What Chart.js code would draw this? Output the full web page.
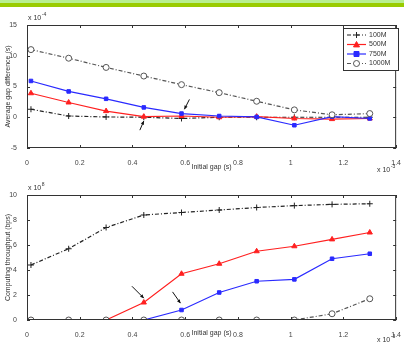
<!DOCTYPE html>
<html>
<head>
<meta charset="utf-8">
<script src="https://cdn.jsdelivr.net/npm/chart.js@4.4.1/dist/chart.umd.min.js"></script>
<style>
  body { margin: 0; background: #fff; width: 404px; height: 343px; overflow: hidden; position: relative; }
  .band1 { position: absolute; left: 0; top: 0; width: 404px; height: 3px; background: #b8ef90; }
  .band2 { position: absolute; left: 0; top: 3px; width: 404px; height: 4px; background: #99cc00; }
  canvas { position: absolute; left: 0; }
  #gapChart { top: 7px; }
  #thrChart { top: 178px; }
</style>
</head>
<body>
<div class="band1"></div>
<div class="band2"></div>
<canvas id="gapChart" width="404" height="171"></canvas>
<canvas id="thrChart" width="404" height="165"></canvas>
<script>
// initial gap, x 10^-3 s
const initialGap = [0.015, 0.158, 0.3, 0.443, 0.586, 0.729, 0.871, 1.014, 1.157, 1.3];
const seriesNames = ['100M', '500M', '750M', '1000M'];
const xTicks = [0, 0.2, 0.4, 0.6, 0.8, 1, 1.2, 1.4];

// average gap difference, x 10^-4 s
const gap100 = [1.3, 0.2, 0.05, 0, -0.2, 0, 0, 0, 0, 0];
const gap500 = [3.9, 2.4, 1.0, 0.1, 0.2, 0, 0.1, -0.2, -0.3, -0.2];
const gap750 = [5.9, 4.2, 3.0, 1.6, 0.6, 0.2, 0.05, -1.3, 0.1, -0.2];
const gap1000 = [11.0, 9.6, 8.1, 6.7, 5.3, 4.0, 2.6, 1.2, 0.4, 0.6];
const gapTicks = [-5, 0, 5, 10, 15];

// computing throughput, x 10^8 bps
const thr100 = [4.4, 5.7, 7.4, 8.4, 8.6, 8.8, 9.0, 9.15, 9.25, 9.3];
const thr500 = [0, 0, 0, 1.4, 3.7, 4.5, 5.5, 5.9, 6.45, 7.0];
const thr750 = [0, 0, 0, 0, 0.8, 2.2, 3.1, 3.25, 4.9, 5.3];
const thr1000 = [0, 0, 0, 0, 0, 0, 0, 0, 0.5, 1.7];
const thrTicks = [0, 2, 4, 6, 8, 10];

// arrows [x0, y0, x1, y1] in data units, head at (x1, y1)
const gapArrows = [[0.616, 2.9, 0.597, 1.3], [0.428, -2.1, 0.443, -0.6]];
const thrArrows = [[0.398, 2.7, 0.443, 1.75], [0.552, 2.25, 0.582, 1.35]];

const FONT = '"Liberation Sans", Arial, sans-serif';

const styles = [
    { color: '#222', dash: [4, 2, 1, 2], point: 'cross', fill: '#222', r: 3 },
    { color: '#ff2020', dash: [], point: 'triangle', fill: '#ff2020', r: 3 },
    { color: '#2a2aff', dash: [], point: 'rect', fill: '#2a2aff', r: 2.5 },
    { color: '#555', dash: [4, 2, 1, 2], point: 'circle', fill: '#fff', r: 3 }
];

function makeDatasets(lists) {
    return lists.map((vals, i) => ({
        label: seriesNames[i],
        data: vals.map((v, k) => ({ x: initialGap[k], y: v })),
        borderColor: styles[i].color,
        borderWidth: 1.2,
        borderDash: styles[i].dash,
        pointStyle: styles[i].point,
        pointRadius: styles[i].r,
        pointBorderWidth: 1,
        pointBorderColor: styles[i].color,
        pointBackgroundColor: styles[i].fill,
        tension: 0
    })).reverse();
}

function drawMarker(ctx, st, x, y) {
    ctx.save();
    ctx.strokeStyle = st.color;
    ctx.fillStyle = st.fill;
    ctx.lineWidth = 1;
    ctx.setLineDash([]);
    const r = st.r;
    ctx.beginPath();
    if (st.point === 'cross') {
        ctx.moveTo(x - r, y); ctx.lineTo(x + r, y);
        ctx.moveTo(x, y - r); ctx.lineTo(x, y + r);
        ctx.stroke();
    } else if (st.point === 'triangle') {
        ctx.moveTo(x, y - r); ctx.lineTo(x + r, y + r * 0.8); ctx.lineTo(x - r, y + r * 0.8);
        ctx.closePath(); ctx.fill(); ctx.stroke();
    } else if (st.point === 'rect') {
        ctx.rect(x - r, y - r, 2 * r, 2 * r); ctx.fill(); ctx.stroke();
    } else {
        ctx.arc(x, y, r, 0, Math.PI * 2); ctx.fill(); ctx.stroke();
    }
    ctx.restore();
}

function expText(ctx, x, y, base, exp) {
    ctx.font = '7px ' + FONT;
    ctx.textAlign = 'left';
    ctx.textBaseline = 'alphabetic';
    ctx.fillText(base, x, y);
    const w = ctx.measureText(base).width;
    ctx.font = '5px ' + FONT;
    ctx.fillText(exp, x + w + 0.5, y - 4);
}

// box with inward ticks, titles, arrows, legend
const framePlugin = {
    id: 'frame',
    afterDatasetsDraw(chart, args, opts) {
        const { ctx, chartArea: a, scales } = chart;
        ctx.save();
        ctx.strokeStyle = '#333';
        ctx.lineWidth = 1;
        ctx.setLineDash([]);
        ctx.strokeRect(a.left + 0.5, a.top + 0.5, a.right - a.left - 1, a.bottom - a.top - 1);
        ctx.beginPath();
        scales.x.ticks.forEach(t => {
            const px = Math.round(scales.x.getPixelForValue(t.value)) + 0.5;
            ctx.moveTo(px, a.bottom); ctx.lineTo(px, a.bottom - 3);
            ctx.moveTo(px, a.top); ctx.lineTo(px, a.top + 3);
        });
        scales.y.ticks.forEach(t => {
            const py = Math.round(scales.y.getPixelForValue(t.value)) + 0.5;
            ctx.moveTo(a.left, py); ctx.lineTo(a.left + 3, py);
            ctx.moveTo(a.right, py); ctx.lineTo(a.right - 3, py);
        });
        ctx.stroke();

        // arrows
        ctx.strokeStyle = '#111';
        ctx.fillStyle = '#111';
        opts.arrows.forEach(ar => {
            const x0 = scales.x.getPixelForValue(ar[0]), y0 = scales.y.getPixelForValue(ar[1]);
            const x1 = scales.x.getPixelForValue(ar[2]), y1 = scales.y.getPixelForValue(ar[3]);
            const ang = Math.atan2(y1 - y0, x1 - x0);
            ctx.beginPath(); ctx.moveTo(x0, y0); ctx.lineTo(x1, y1); ctx.stroke();
            ctx.beginPath();
            ctx.moveTo(x1, y1);
            ctx.lineTo(x1 - 4 * Math.cos(ang - 0.45), y1 - 4 * Math.sin(ang - 0.45));
            ctx.lineTo(x1 - 4 * Math.cos(ang + 0.45), y1 - 4 * Math.sin(ang + 0.45));
            ctx.closePath(); ctx.fill();
        });

        // titles
        ctx.fillStyle = '#333';
        ctx.font = '7px ' + FONT;
        ctx.textAlign = 'center';
        ctx.textBaseline = 'middle';
        ctx.fillText('Initial gap (s)', (a.left + a.right) / 2, a.bottom + opts.titleGap);
        ctx.save();
        ctx.translate(8, (a.top + a.bottom) / 2);
        ctx.rotate(-Math.PI / 2);
        ctx.fillText(opts.yTitle, 0, 0);
        ctx.restore();
        expText(ctx, 28, a.top - 5, 'x 10', opts.yExp);
        expText(ctx, 377, a.bottom + opts.expGap, 'x 10', '-3');

        // legend
        if (opts.legend) {
            const bx = 343, by = a.top + 3, bw = 55, bh = 42;
            ctx.fillStyle = '#fff';
            ctx.fillRect(bx, by, bw, bh);
            ctx.strokeStyle = '#333';
            ctx.strokeRect(bx + 0.5, by + 0.5, bw, bh);
            seriesNames.forEach((name, i) => {
                const st = styles[i];
                const ly = by + 7 + i * 9.5;
                ctx.strokeStyle = st.color;
                ctx.lineWidth = 1.2;
                ctx.setLineDash(st.dash);
                ctx.beginPath(); ctx.moveTo(347, ly); ctx.lineTo(366, ly); ctx.stroke();
                drawMarker(ctx, st, 356.5, ly);
                ctx.fillStyle = '#333';
                ctx.font = '7px ' + FONT;
                ctx.textAlign = 'left';
                ctx.textBaseline = 'middle';
                ctx.fillText(name, 369, ly);
            });
        }
        ctx.restore();
    }
};

function buildChart(id, lists, yTicks, padTop, xHeight, plugOpts) {
    return new Chart(document.getElementById(id), {
        type: 'line',
        data: { datasets: makeDatasets(lists) },
        plugins: [framePlugin],
        options: {
            responsive: false,
            animation: false,
            devicePixelRatio: 1,
            layout: { padding: { top: padTop, left: 0, right: 4, bottom: 0 } },
            plugins: { legend: { display: false }, tooltip: { enabled: false }, frame: plugOpts },
            scales: {
                x: {
                    type: 'linear', min: 0, max: 1.4,
                    afterBuildTicks: s => { s.ticks = xTicks.map(v => ({ value: v })); },
                    afterFit: s => { s.height = xHeight; },
                    grid: { display: false },
                    border: { display: false },
                    ticks: { font: { size: 7, family: FONT }, color: '#444', padding: 3, maxRotation: 0,
                             callback: v => String(v) }
                },
                y: {
                    min: yTicks[0], max: yTicks[yTicks.length - 1],
                    afterBuildTicks: s => { s.ticks = yTicks.map(v => ({ value: v })); },
                    afterFit: s => { s.width = 27; },
                    grid: { display: false },
                    border: { display: false },
                    ticks: { font: { size: 7, family: FONT }, color: '#444', padding: 2 }
                }
            }
        }
    });
}

buildChart('gapChart', [gap100, gap500, gap750, gap1000], gapTicks, 18, 30,
    { yTitle: 'Average gap difference (s)', yExp: '-4', arrows: gapArrows, legend: true,
      titleGap: 19, expGap: 24 });
buildChart('thrChart', [thr100, thr500, thr750, thr1000], thrTicks, 17, 23,
    { yTitle: 'Computing throughput (bps)', yExp: '8', arrows: thrArrows, legend: false,
      titleGap: 13, expGap: 22 });
</script>
</body>
</html>
